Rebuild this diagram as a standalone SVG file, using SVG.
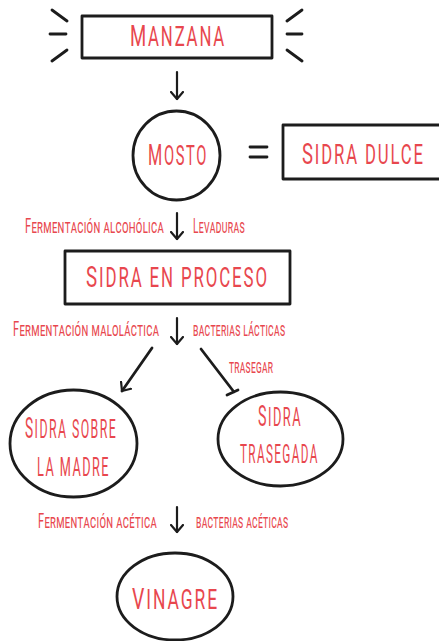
<svg xmlns="http://www.w3.org/2000/svg" width="439" height="641" viewBox="0 0 439 641">
<style>
.ln{fill:none;stroke:#1c1c1c;stroke-width:2.8;stroke-linecap:round;stroke-linejoin:round}
.ar{fill:none;stroke:#1c1c1c;stroke-width:2.2;stroke-linecap:round}
.t{font-family:Roboto,"Liberation Sans",sans-serif;font-weight:400;fill:#e8474e;text-transform:uppercase;font-size:27px;letter-spacing:3px}
.s{font-size:26px}
.c{font-size:30px}
.c2{font-size:29px}
.lb{font-family:Roboto,"Liberation Sans",sans-serif;font-weight:400;fill:#e8474e;font-variant:small-caps;font-size:19.5px;letter-spacing:0.5px}
</style>
<defs>
<marker id="ah" markerUnits="userSpaceOnUse" markerWidth="12" markerHeight="14" viewBox="0 0 12 14" refX="8" refY="7" orient="auto">
<path d="M1,1 L8,7 L1,13" fill="none" stroke="#1c1c1c" stroke-width="2.2" stroke-linecap="round" stroke-linejoin="round"/>
</marker>
</defs>
<rect width="439" height="641" fill="#fff"/>

<g id="manzana">
<rect class="ln" x="82" y="16" width="190" height="42"/>
<path class="ln" d="M52,10 L67,21 M50,34 L66,34 M52,61 L67,50 M287,21 L302,10 M287,34 L302,34 M287,50 L302,61"/>
<text class="t" transform="translate(130,46) scale(0.62,1)" textLength="155" lengthAdjust="spacingAndGlyphs"><tspan class="c">M</tspan>anzana</text>
</g>

<g id="mosto">
<ellipse class="ln" cx="176.5" cy="155.5" rx="43.5" ry="44.5"/>
<text class="t" transform="translate(148,165) scale(0.54,1)" textLength="111" lengthAdjust="spacingAndGlyphs"><tspan class="c">M</tspan>osto</text>
</g>

<g id="sidra-dulce">
<rect class="ln" x="283" y="125" width="170" height="54"/>
<text class="t" transform="translate(302,164) scale(0.62,1)" textLength="198" lengthAdjust="spacingAndGlyphs"><tspan class="c">S</tspan>idra dulce</text>
</g>

<g id="sidra-proceso">
<rect class="ln" x="65" y="251" width="225" height="53"/>
<text class="t" transform="translate(86,287) scale(0.59,1)" textLength="310" lengthAdjust="spacingAndGlyphs"><tspan class="c">S</tspan>idra en proceso</text>
</g>

<g id="sidra-madre">
<ellipse class="ln" cx="73.5" cy="443.5" rx="63.5" ry="53.5"/>
<text class="t s" transform="translate(25,438) scale(0.48,1)" textLength="192" lengthAdjust="spacingAndGlyphs"><tspan class="c2">S</tspan>idra sobre</text>
<text class="t s" transform="translate(37,476) scale(0.49,1)" textLength="149" lengthAdjust="spacingAndGlyphs">la madre</text>
</g>

<g id="sidra-trasegada">
<ellipse class="ln" cx="280.5" cy="439" rx="62.5" ry="47"/>
<text class="t s" transform="translate(258,426) scale(0.49,1)" textLength="90" lengthAdjust="spacingAndGlyphs"><tspan class="c2">S</tspan>idra</text>
<text class="t s" transform="translate(240,463) scale(0.45,1)" textLength="175" lengthAdjust="spacingAndGlyphs">trasegada</text>
</g>

<g id="vinagre">
<ellipse class="ln" cx="175" cy="596.5" rx="58" ry="43.5"/>
<text class="t" transform="translate(132,609) scale(0.65,1)" textLength="134" lengthAdjust="spacingAndGlyphs"><tspan class="c">V</tspan>inagre</text>
</g>

<g id="connectors">
<path class="ar" d="M177,72 L177,99" marker-end="url(#ah)"/>
<path class="ln" d="M250,147 L267,147 M250,157 L267,157"/>
<path class="ar" d="M177,213 L177,239" marker-end="url(#ah)"/>
<path class="ar" d="M177,318 L177,344" marker-end="url(#ah)"/>
<path class="ln" d="M152,348 L122,391" marker-end="url(#ah)"/>
<path class="ln" d="M201,349 L234,392 M227,395 L238,390"/>
<path class="ar" d="M177,507 L177,532" marker-end="url(#ah)"/>
</g>

<g id="labels">
<text class="lb" transform="translate(25,233) scale(0.65,1)" textLength="214" lengthAdjust="spacingAndGlyphs">Fermentación alcohólica</text>
<text class="lb" transform="translate(193,233) scale(0.65,1)" textLength="80" lengthAdjust="spacingAndGlyphs">Levaduras</text>
<text class="lb" transform="translate(13,336) scale(0.65,1)" textLength="225" lengthAdjust="spacingAndGlyphs">Fermentación maloláctica</text>
<text class="lb" transform="translate(193,336) scale(0.65,1)" textLength="142" lengthAdjust="spacingAndGlyphs">bacterias lácticas</text>
<text class="lb" transform="translate(229,373) scale(0.65,1)" textLength="68" lengthAdjust="spacingAndGlyphs">trasegar</text>
<text class="lb" transform="translate(38,528) scale(0.65,1)" textLength="183" lengthAdjust="spacingAndGlyphs">Fermentación acética</text>
<text class="lb" transform="translate(196,528) scale(0.65,1)" textLength="142" lengthAdjust="spacingAndGlyphs">bacterias acéticas</text>
</g>
</svg>
